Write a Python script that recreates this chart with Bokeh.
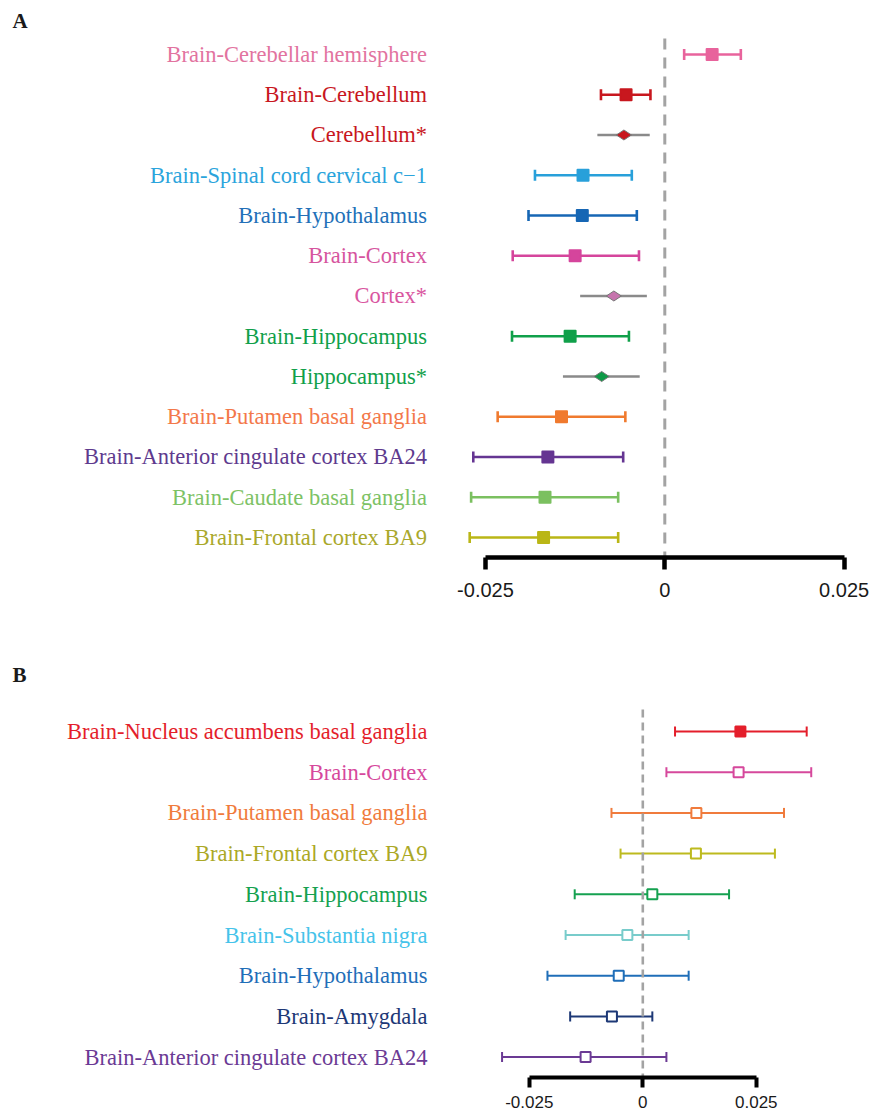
import math
from bokeh.plotting import figure
from bokeh.models import Range1d, FixedTicker, NumeralTickFormatter, ColumnDataSource
from bokeh.layouts import column
from bokeh.embed import file_html
from bokeh.resources import INLINE
from bokeh.core.properties import value

# ---------------- Panel A data ----------------
a_labels = [
    "Brain-Cerebellar hemisphere", "Brain-Cerebellum", "Cerebellum*",
    "Brain-Spinal cord cervical c\u22121", "Brain-Hypothalamus", "Brain-Cortex",
    "Cortex*", "Brain-Hippocampus", "Hippocampus*",
    "Brain-Putamen basal ganglia", "Brain-Anterior cingulate cortex BA24",
    "Brain-Caudate basal ganglia", "Brain-Frontal cortex BA9",
]
a_est = [0.0066, -0.0054, -0.0057, -0.0114, -0.0115, -0.0125, -0.0071,
         -0.0132, -0.0088, -0.0144, -0.0163, -0.0167, -0.0169]
a_lo = [0.0027, -0.0089, -0.0094, -0.0181, -0.0190, -0.0212, -0.0118,
        -0.0213, -0.0142, -0.0233, -0.0267, -0.0270, -0.0272]
a_hi = [0.0106, -0.0020, -0.0021, -0.0046, -0.0039, -0.0036, -0.0025,
        -0.0050, -0.0035, -0.0055, -0.0058, -0.0065, -0.0065]
a_meta = [False, False, True, False, False, False, True, False, True,
          False, False, False, False]
a_colors = ["#E8639C", "#C8171E", "#C8171E", "#28A0DA", "#1666B4", "#D5459C",
            "#C674AD", "#10A04A", "#0E9A47", "#F07A2E", "#653592", "#7BC060", "#BAB616"]
a_label_colors = ["#E2739F", "#C8171E", "#C8171E", "#2BA4DC", "#2270B8", "#D6559E",
                  "#D9569F", "#10A04A", "#10A04A", "#F3784A", "#5E3A8E", "#7DC265", "#A9A82A"]

# ---------------- Panel B data ----------------
b_labels = [
    "Brain-Nucleus accumbens basal ganglia", "Brain-Cortex",
    "Brain-Putamen basal ganglia", "Brain-Frontal cortex BA9",
    "Brain-Hippocampus", "Brain-Substantia nigra", "Brain-Hypothalamus",
    "Brain-Amygdala", "Brain-Anterior cingulate cortex BA24",
]
b_est = [0.0215, 0.0211, 0.0118, 0.0117, 0.0021, -0.0034, -0.0053, -0.0068, -0.0126]
b_lo = [0.0071, 0.0052, -0.0069, -0.0049, -0.0150, -0.0170, -0.0210, -0.0160, -0.0310]
b_hi = [0.0361, 0.0371, 0.0311, 0.0291, 0.0190, 0.0101, 0.0101, 0.0021, 0.0052]
b_filled = [True, False, False, False, False, False, False, False, False]
b_colors = ["#E41E2B", "#D6489C", "#F07B3C", "#BDBA1E", "#15A150", "#78CCCB",
            "#1F6EB8", "#1D3876", "#6B3A94"]
b_label_colors = ["#E41E2B", "#D6489C", "#F07B3C", "#ABA826", "#15A150", "#45C3EA",
                  "#1F6EB8", "#1D3876", "#6B3A94"]

TICKS = [-0.025, 0, 0.025]
SERIF = value("Liberation Serif")

W = 869


def px_to_x(xr, px):
    return xr[0] + px / W * (xr[1] - xr[0])


def style_axis(p, lw, tick_out, font_size, standoff):
    ax = p.xaxis[0]
    ax.ticker = FixedTicker(ticks=TICKS)
    ax.formatter = NumeralTickFormatter(format="0.[000]")
    ax.bounds = (TICKS[0], TICKS[-1])
    ax.axis_line_width = lw
    ax.axis_line_color = "black"
    ax.major_tick_line_width = lw
    ax.major_tick_line_color = "black"
    ax.major_tick_out = tick_out
    ax.major_tick_in = 0
    ax.minor_tick_line_color = None
    ax.major_label_text_font = "Liberation Sans"
    ax.major_label_text_font_size = font_size
    ax.major_label_text_color = "#1a1a1a"
    ax.major_label_standoff = standoff


# ---------------- Figure A ----------------
XA = (-0.092611, 0.028538)
YA = (12.4969, -1.3416)
pA = figure(width=W, height=628, x_range=Range1d(*XA), y_range=Range1d(*YA),
            output_backend="svg", toolbar_location=None, title=None,
            y_axis_location=None, min_border_left=0, min_border_right=0,
            min_border_top=0, min_border_bottom=71)
pA.outline_line_color = None
pA.xgrid.visible = False
pA.ygrid.visible = False

rows_a = list(range(len(a_labels)))
srcA = ColumnDataSource(dict(y=rows_a, est=a_est, lo=a_lo, hi=a_hi,
                             col=a_colors, lcol=a_label_colors, label=a_labels,
                             ecol=["#8A8A8A" if m else c for m, c in zip(a_meta, a_colors)]))
gi = [i for i, m in enumerate(a_meta) if not m]
mi = [i for i, m in enumerate(a_meta) if m]
srcAg = ColumnDataSource(dict(y=[rows_a[i] for i in gi], est=[a_est[i] for i in gi],
                              lo=[a_lo[i] for i in gi], hi=[a_hi[i] for i in gi],
                              col=[a_colors[i] for i in gi]))
srcAm = ColumnDataSource(dict(y=[rows_a[i] for i in mi], est=[a_est[i] for i in mi],
                              col=[a_colors[i] for i in mi]))

pA.segment(x0=[0], y0=[-0.4], x1=[0], y1=[YA[0]], line_color="#A3A3A3",
           line_width=3, line_dash="11 8")
pA.segment(x0="lo", y0="y", x1="hi", y1="y", line_color="ecol", line_width=2.6, source=srcA)
pA.scatter(x="lo", y="y", marker="dash", angle=math.pi / 2, size=11,
           line_color="col", line_width=2.6, source=srcAg)
pA.scatter(x="hi", y="y", marker="dash", angle=math.pi / 2, size=11,
           line_color="col", line_width=2.6, source=srcAg)
pA.scatter(x="est", y="y", marker="square", size=11, fill_color="col",
           line_color="col", line_width=2, line_join="round", source=srcAg)
pA.scatter(x="est", y="y", marker="diamond", angle=math.pi / 2, size=15,
           fill_color="col", line_color="#777777", line_width=1, source=srcAm)
pA.text(x=px_to_x(XA, 426.5), y="y", text="label", text_color="lcol",
        text_align="right", text_baseline="middle", text_font=SERIF,
        text_font_size="22.5px", source=srcA)
pA.text(x=[px_to_x(XA, 12)], y=[(20.5 - 54) / 40.25], text=["A"], text_color="#1a1a1a",
        text_align="left", text_baseline="middle", text_font=SERIF,
        text_font_style="bold", text_font_size="21px")
style_axis(pA, 4.5, 12, "20px", 13)

# ---------------- Figure B ----------------
XB = (-0.141476, 0.049934)
YB = (8.501, -2.531)
pB = figure(width=W, height=487, x_range=Range1d(*XB), y_range=Range1d(*YB),
            output_backend="svg", toolbar_location=None, title=None,
            y_axis_location=None, min_border_left=0, min_border_right=0,
            min_border_top=0, min_border_bottom=38)
pB.outline_line_color = None
pB.xgrid.visible = False
pB.ygrid.visible = False

rows_b = list(range(len(b_labels)))
srcB = ColumnDataSource(dict(y=rows_b, est=b_est, lo=b_lo, hi=b_hi, col=b_colors,
                             lcol=b_label_colors, label=b_labels,
                             fill=[c if f else "white" for c, f in zip(b_colors, b_filled)]))
pB.segment(x0="lo", y0="y", x1="hi", y1="y", line_color="col", line_width=2, source=srcB)
pB.segment(x0=[0], y0=[-0.54], x1=[0], y1=[YB[0]], line_color="#A3A3A3",
           line_width=2.6, line_dash="8 5")
pB.scatter(x="lo", y="y", marker="dash", angle=math.pi / 2, size=10,
           line_color="col", line_width=2, source=srcB)
pB.scatter(x="hi", y="y", marker="dash", angle=math.pi / 2, size=10,
           line_color="col", line_width=2, source=srcB)
pB.scatter(x="est", y="y", marker="square", size=10, fill_color="fill",
           line_color="col", line_width=2, source=srcB)
pB.text(x=px_to_x(XB, 427), y="y", text="label", text_color="lcol",
        text_align="right", text_baseline="middle", text_font=SERIF,
        text_font_size="22.5px", source=srcB)
pB.text(x=[px_to_x(XB, 12)], y=[(674 - 731) / 40.7], text=["B"], text_color="#1a1a1a",
        text_align="left", text_baseline="middle", text_font=SERIF,
        text_font_style="bold", text_font_size="21px")
style_axis(pB, 4, 10, "17px", 8)

layout = column(pA, pB, spacing=0)
open("out.html", "w").write(file_html(layout, INLINE))
